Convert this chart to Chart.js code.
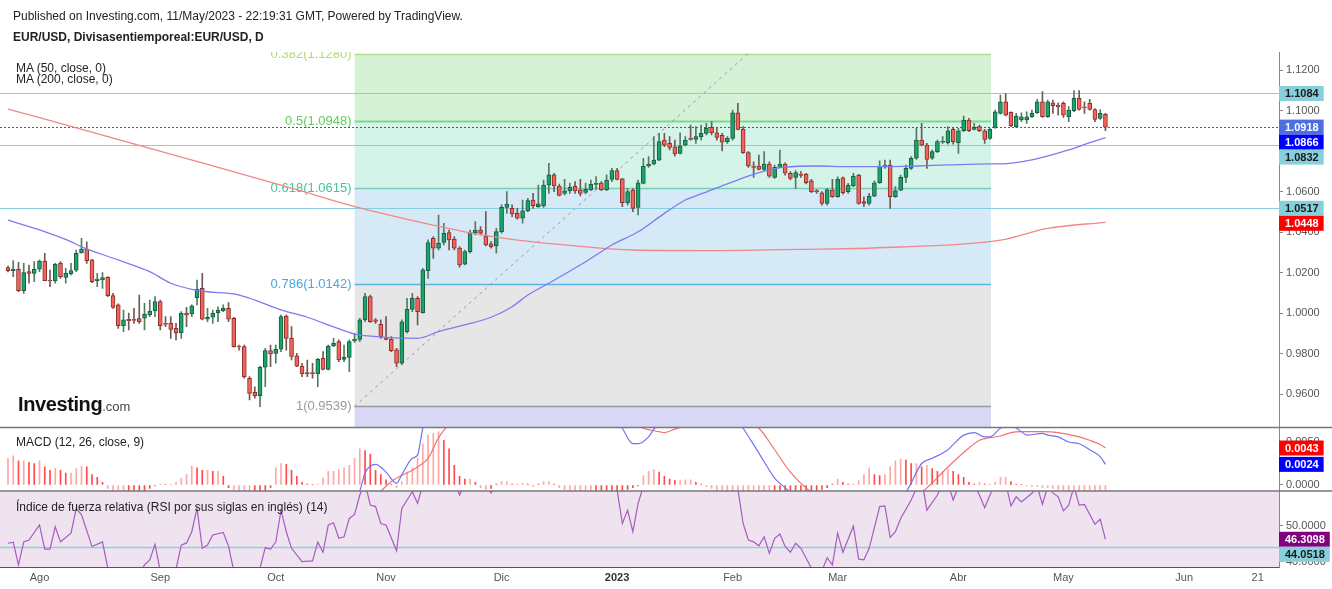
<!DOCTYPE html>
<html>
<head>
<meta charset="utf-8">
<script src="https://cdn.jsdelivr.net/npm/chart.js@4.4.1/dist/chart.umd.min.js"></script>
<style>
  html, body { margin: 0; padding: 0; background: #fff; overflow: hidden; }
  #wrap { position: relative; width: 1332px; height: 589px; font-family: "Liberation Sans", Arial, sans-serif; color: #222; }
  #chart { position: absolute; left: 0; top: 0; }
  .txt { position: absolute; white-space: nowrap; font-size: 12px; line-height: 12px; }
  .logo { position: absolute; left: 18px; top: 393px; white-space: nowrap; }
  .logo b { font-size: 20px; letter-spacing: -0.4px; color: #111; }
  .logo span { font-size: 13px; color: #444; }
</style>
</head>
<body>
<div id="wrap">
  <canvas id="chart" width="1332" height="589"></canvas>
  <div class="txt" style="left:13px;top:10px;">Published on Investing.com, 11/May/2023 - 22:19:31 GMT, Powered by TradingView.</div>
  <div class="txt" style="left:13px;top:31px;font-weight:bold;">EUR/USD, Divisasentiemporeal:EUR/USD, D</div>
  <div class="txt" style="left:16px;top:62px;">MA (50, close, 0)</div>
  <div class="txt" style="left:16px;top:73px;">MA (200, close, 0)</div>
  <div class="logo"><b>Investing</b><span>.com</span></div>
  <div class="txt" style="left:16px;top:436px;">MACD (12, 26, close, 9)</div>
  <div class="txt" style="left:16px;top:501px;">Índice de fuerza relativa (RSI por sus siglas en inglés) (14)</div>
</div>
<script>
// trading day index: 0 = 1 Aug 2022, one step per weekday
const monthDays = [0, 23, 45, 66, 88, 110, 132, 152, 175, 195, 218, 232]
const monthNames = ['Ago', 'Sep', 'Oct', 'Nov', 'Dic', '2023', 'Feb', 'Mar', 'Abr', 'May', 'Jun', '21']

const priceTicks = [0.96, 0.98, 1.00, 1.02, 1.04, 1.06, 1.08, 1.10, 1.12]
const macdTicks = [0, 0.005]
const rsiTicks = [40, 50]

// daily candles, first one at day -6
const firstDay = -6
const opens = [1.0224,1.0209,1.0216,1.0110,1.0204,1.0196,1.0216,1.0257,1.0163,1.0158,1.0245,1.0176,1.0193,1.0212,1.0298,1.0316,1.0262,1.0160,1.0163,1.0176,1.0086,1.0040,0.9938,0.9969,0.9969,0.9972,0.9974,0.9990,1.0010,1.0056,0.9949,0.9949,0.9924,0.9903,0.9999,0.9995,1.0076,1.0122,0.9969,0.9979,1.0002,1.0012,1.0023,0.9974,0.9837,0.9834,0.9678,0.9608,0.9592,0.9732,0.9814,0.9801,0.9821,0.9985,0.9875,0.9788,0.9738,0.9706,0.9706,0.9699,0.9776,0.9722,0.9837,0.9859,0.9771,0.9781,0.9862,0.9870,0.9966,1.0081,0.9966,0.9944,0.9878,0.9870,0.9818,0.9752,0.9908,1.0018,1.0073,1.0002,1.0209,1.0369,1.0320,1.0348,1.0397,1.0364,1.0320,1.0241,1.0303,1.0397,1.0410,1.0380,1.0341,1.0331,1.0402,1.0522,1.0517,1.0492,1.0468,1.0505,1.0558,1.0525,1.0529,1.0632,1.0682,1.0627,1.0591,1.0603,1.0627,1.0608,1.0595,1.0608,1.0635,1.0641,1.0608,1.0660,1.0703,1.0662,1.0545,1.0607,1.0522,1.0640,1.0726,1.0736,1.0755,1.0854,1.0838,1.0821,1.0788,1.0829,1.0862,1.0857,1.0871,1.0887,1.0917,1.0890,1.0877,1.0846,1.0862,1.0989,1.0907,1.0792,1.0726,1.0726,1.0709,1.0736,1.0670,1.0719,1.0736,1.0690,1.0670,1.0686,1.0686,1.0653,1.0604,1.0594,1.0541,1.0607,1.0574,1.0668,1.0599,1.0627,1.0681,1.0550,1.0541,1.0577,1.0643,1.0722,1.0731,1.0574,1.0607,1.0670,1.0714,1.0764,1.0854,1.0829,1.0764,1.0797,1.0843,1.0841,1.0907,1.0841,1.0900,1.0953,1.0907,1.0920,1.0900,1.0862,1.0917,1.0986,1.1043,1.0991,1.0920,1.0953,1.0953,1.0969,1.0989,1.1043,1.0969,1.1038,1.1027,1.1035,1.0969,1.0999,1.1060,1.1018,1.1035,1.1005,1.0961,1.0981]
const highs = [1.0232,1.0259,1.0250,1.0245,1.0237,1.0254,1.0262,1.0295,1.0212,1.0245,1.0254,1.0221,1.0245,1.0311,1.0369,1.0352,1.0265,1.0196,1.0199,1.0180,1.0097,1.0045,1.0015,0.9999,1.0023,1.0089,1.0048,1.0064,1.0081,1.0064,0.9982,0.9982,0.9949,1.0007,1.0028,1.0040,1.0163,1.0196,1.0023,1.0015,1.0031,1.0040,1.0051,0.9979,0.9842,0.9842,0.9686,0.9636,0.9738,0.9826,0.9842,0.9842,0.9990,0.9990,0.9933,0.9801,0.9752,0.9768,0.9752,0.9776,0.9809,0.9842,0.9875,0.9867,0.9842,0.9867,0.9900,0.9974,1.0097,1.0089,0.9972,0.9966,0.9982,0.9883,0.9826,0.9966,1.0073,1.0097,1.0081,1.0221,1.0361,1.0377,1.0484,1.0443,1.0410,1.0377,1.0328,1.0311,1.0410,1.0451,1.0427,1.0501,1.0353,1.0418,1.0534,1.0599,1.0534,1.0517,1.0558,1.0566,1.0591,1.0632,1.0657,1.0739,1.0690,1.0637,1.0660,1.0641,1.0649,1.0660,1.0641,1.0657,1.0674,1.0649,1.0682,1.0715,1.0715,1.0665,1.0615,1.0615,1.0657,1.0764,1.0772,1.0871,1.0887,1.0887,1.0871,1.0854,1.0890,1.0871,1.0928,1.0920,1.0928,1.0937,1.0945,1.0912,1.0887,1.0871,1.1002,1.1035,1.0920,1.0797,1.0747,1.0780,1.0797,1.0747,1.0731,1.0805,1.0742,1.0698,1.0703,1.0698,1.0690,1.0660,1.0610,1.0599,1.0615,1.0660,1.0673,1.0673,1.0640,1.0690,1.0685,1.0574,1.0591,1.0653,1.0752,1.0755,1.0755,1.0624,1.0681,1.0731,1.0772,1.0912,1.0937,1.0838,1.0805,1.0854,1.0871,1.0920,1.0912,1.0912,1.0973,1.0961,1.0937,1.0928,1.0907,1.0912,1.1002,1.1076,1.1084,1.0994,1.0986,1.0989,1.0994,1.1002,1.1055,1.1093,1.1051,1.1051,1.1038,1.1043,1.1019,1.1098,1.1098,1.1043,1.1055,1.1010,1.1005,1.0986]
const lows = [1.0203,1.0180,1.0105,1.0097,1.0147,1.0155,1.0204,1.0160,1.0130,1.0147,1.0171,1.0147,1.0188,1.0204,1.0295,1.0245,1.0150,1.0130,1.0122,1.0081,1.0023,0.9924,0.9908,0.9916,0.9949,0.9949,0.9916,0.9982,0.9982,0.9916,0.9933,0.9875,0.9867,0.9875,0.9933,0.9982,1.0040,0.9966,0.9957,0.9949,0.9957,1.0007,0.9957,0.9831,0.9817,0.9678,0.9571,0.9579,0.9538,0.9636,0.9735,0.9752,0.9809,0.9817,0.9768,0.9735,0.9686,0.9686,0.9678,0.9636,0.9719,0.9719,0.9834,0.9760,0.9760,0.9710,0.9855,0.9859,0.9957,0.9953,0.9948,0.9875,0.9867,0.9809,0.9735,0.9743,0.9900,1.0007,0.9941,0.9999,1.0171,1.0270,1.0311,1.0336,1.0311,1.0311,1.0226,1.0237,1.0295,1.0385,1.0385,1.0331,1.0320,1.0295,1.0394,1.0492,1.0476,1.0463,1.0443,1.0501,1.0517,1.0522,1.0522,1.0591,1.0599,1.0578,1.0583,1.0591,1.0591,1.0578,1.0588,1.0604,1.0611,1.0604,1.0604,1.0649,1.0657,1.0525,1.0533,1.0500,1.0484,1.0637,1.0719,1.0731,1.0752,1.0821,1.0805,1.0775,1.0785,1.0825,1.0854,1.0838,1.0854,1.0879,1.0879,1.0854,1.0801,1.0838,1.0854,1.0904,1.0788,1.0719,1.0670,1.0706,1.0703,1.0670,1.0665,1.0719,1.0681,1.0657,1.0615,1.0670,1.0637,1.0594,1.0591,1.0533,1.0533,1.0571,1.0571,1.0587,1.0591,1.0624,1.0538,1.0525,1.0533,1.0574,1.0640,1.0714,1.0517,1.0571,1.0604,1.0643,1.0709,1.0759,1.0825,1.0714,1.0759,1.0792,1.0838,1.0834,1.0834,1.0788,1.0895,1.0895,1.0904,1.0895,1.0838,1.0857,1.0912,1.0982,1.0973,1.0920,1.0917,1.0945,1.0936,1.0966,1.0986,1.0966,1.0966,1.0986,1.0977,1.0966,1.0945,1.0994,1.1002,1.0986,1.1002,1.0945,1.0956,1.0900]
const closes = [1.0209,1.0216,1.0110,1.0199,1.0196,1.0216,1.0257,1.0160,1.0158,1.0240,1.0180,1.0196,1.0209,1.0295,1.0316,1.0259,1.0155,1.0168,1.0175,1.0086,1.0028,0.9938,0.9966,0.9962,0.9963,0.9957,0.9995,1.0010,1.0056,0.9938,0.9944,0.9919,0.9900,0.9999,0.9989,1.0035,1.0117,0.9969,0.9979,0.9999,1.0015,1.0023,0.9969,0.9834,0.9832,0.9686,0.9603,0.9592,0.9732,0.9814,0.9798,0.9821,0.9982,0.9875,0.9785,0.9738,0.9699,0.9699,0.9699,0.9771,0.9722,0.9837,0.9850,0.9768,0.9781,0.9859,0.9870,0.9966,1.0081,0.9957,0.9959,0.9883,0.9870,0.9814,0.9752,0.9957,1.0018,1.0073,1.0007,1.0213,1.0348,1.0320,1.0344,1.0394,1.0361,1.0320,1.0237,1.0303,1.0397,1.0410,1.0394,1.0336,1.0328,1.0402,1.0522,1.0538,1.0489,1.0468,1.0504,1.0555,1.0530,1.0539,1.0632,1.0682,1.0627,1.0581,1.0603,1.0621,1.0603,1.0591,1.0611,1.0636,1.0640,1.0608,1.0657,1.0703,1.0660,1.0545,1.0599,1.0517,1.0643,1.0726,1.0736,1.0755,1.0846,1.0829,1.0818,1.0785,1.0825,1.0854,1.0857,1.0871,1.0887,1.0912,1.0890,1.0867,1.0843,1.0862,1.0989,1.0907,1.0792,1.0726,1.0719,1.0709,1.0736,1.0676,1.0719,1.0736,1.0690,1.0665,1.0693,1.0680,1.0643,1.0599,1.0599,1.0541,1.0610,1.0574,1.0660,1.0594,1.0632,1.0676,1.0541,1.0541,1.0577,1.0643,1.0726,1.0731,1.0574,1.0604,1.0670,1.0714,1.0764,1.0854,1.0829,1.0759,1.0797,1.0846,1.0848,1.0900,1.0846,1.0900,1.0953,1.0900,1.0917,1.0900,1.0857,1.0907,1.0994,1.1043,1.0977,1.0925,1.0973,1.0969,1.0969,1.0986,1.1043,1.0969,1.1043,1.1024,1.1019,1.0977,1.1002,1.1060,1.1005,1.1013,1.1005,1.0956,1.0986,1.0918]

// moving averages
const ma50Days = [-6, 0, 6, 8, 15, 21, 25, 29, 32, 37, 41, 46, 51, 56, 60, 63, 72, 76, 81, 86, 90, 93, 97, 104, 109, 114, 119, 123, 126, 132, 137, 142, 148, 154, 161, 167, 173, 181, 183, 189, 196, 200, 203]
const ma50Vals = [1.0459, 1.0410, 1.0352, 1.0327, 1.0262, 1.0204, 1.0147, 1.0117, 1.0105, 1.0094, 1.0064, 1.0015, 0.9979, 0.9932, 0.9896, 0.9886, 0.9875, 0.9908, 0.9941, 0.9979, 1.0031, 1.0089, 1.0147, 1.0253, 1.0336, 1.0401, 1.0492, 1.0558, 1.0588, 1.0648, 1.0693, 1.0720, 1.0726, 1.0723, 1.0723, 1.0726, 1.0731, 1.0736, 1.0736, 1.0756, 1.0805, 1.0841, 1.0866]
const ma200Days = [-6, 12, 31, 50, 59, 72, 81, 91, 100, 113, 126, 145, 164, 183, 192, 203]
const ma200Vals = [1.1007, 1.0879, 1.0741, 1.0602, 1.0533, 1.0451, 1.0401, 1.0360, 1.0336, 1.0311, 1.0308, 1.0314, 1.0326, 1.0360, 1.0418, 1.0448]

// MACD histogram, one bar per day from firstDay
const macdHist = [0.0031,0.0034,0.0028,0.0028,0.0026,0.0025,0.0028,0.0021,0.0017,0.0019,0.0017,0.0014,0.0014,0.0019,0.0022,0.0021,0.0012,0.0009,0.0003,-0.0004,-0.0009,-0.0013,-0.0014,-0.0013,-0.0012,-0.0010,-0.0008,-0.0004,-0.0001,0.0001,0.00005,0.0001,0.0003,0.0008,0.0012,0.0022,0.0020,0.0017,0.0017,0.0016,0.0016,0.0010,-0.0003,-0.0008,-0.0012,-0.0016,-0.0018,-0.0016,-0.0012,-0.0008,-0.0003,0.0020,0.0025,0.0024,0.0017,0.0010,0.0003,0.0001,0.00005,0.0001,0.0008,0.0016,0.0016,0.0018,0.0020,0.0023,0.0031,0.0042,0.0040,0.0036,0.0017,0.0012,0.0006,0.0001,-0.0003,0.0004,0.0015,0.0020,0.0031,0.0048,0.0058,0.0060,0.0062,0.0052,0.0042,0.0023,0.0010,0.0007,0.0007,0.0003,-0.0003,-0.0005,-0.0004,0.0001,0.0004,0.0004,0.0001,0.0001,0.0002,0.0001,-0.0002,0.0001,0.0004,0.0004,0.0001,-0.0003,-0.0006,-0.0009,-0.0011,-0.0012,-0.0013,-0.0013,-0.0012,-0.0011,-0.0010,-0.0009,-0.0008,-0.0007,-0.0005,-0.0003,-0.0001,0.0011,0.0016,0.0018,0.0015,0.0010,0.0007,0.0005,0.0005,0.0006,0.0006,0.0003,0.0001,-0.0002,-0.0004,-0.0007,-0.0010,-0.0013,-0.0016,-0.0019,-0.0022,-0.0025,-0.0027,-0.0029,-0.0030,-0.0030,-0.0029,-0.0027,-0.0024,-0.0021,-0.0018,-0.0015,-0.0012,-0.0009,-0.0007,-0.0005,-0.0003,0.0001,0.0007,0.0003,0.0001,0.0001,0.0005,0.0012,0.0020,0.0012,0.0011,0.0012,0.0021,0.0028,0.0030,0.0029,0.0025,0.0025,0.0021,0.0023,0.0019,0.0016,0.0016,0.0018,0.0016,0.0012,0.0009,0.0003,0.0001,0.0003,0.0001,0.0001,0.0003,0.0009,0.0009,0.0004,0.0001,0.00005,-0.0001,-0.0002,-0.0002,-0.0003,-0.0003,-0.0004,-0.0005,-0.0006,-0.0007,-0.0008,-0.0010,-0.0011,-0.0012,-0.0014,-0.0016,-0.0019]
const macdDays = [-6, 30, 50, 60, 61, 62, 64, 66, 68, 69, 71, 72, 73, 75, 90, 105, 110, 111, 113, 114, 116, 117, 119, 128, 133, 134, 136, 138, 140, 141, 143, 150, 160, 165, 168, 170, 173, 174, 176, 178, 180, 181, 183, 185, 187, 188, 191, 192, 194, 196, 198, 200, 202, 203]
const macdVals = [-0.0035, -0.0020, -0.0030, -0.0018, -0.0007, 0.0014, 0.0024, 0.0015, 0.0002, 0.0012, 0.0031, 0.0035, 0.0066, 0.0095, 0.0110, 0.0090, 0.0075, 0.0066, 0.0048, 0.0048, 0.0056, 0.0065, 0.0080, 0.0085, 0.0075, 0.0066, 0.0047, 0.0027, 0.0008, 0.0002, -0.0008, -0.0025, -0.0020, -0.0008, 0.0025, 0.0031, 0.0041, 0.0047, 0.0058, 0.0061, 0.0056, 0.0056, 0.0066, 0.0069, 0.0062, 0.0058, 0.0060, 0.0058, 0.0056, 0.0050, 0.0048, 0.0041, 0.0033, 0.0024]
const signalDays = [-6, 30, 60, 63, 65, 67, 72, 74, 76, 78, 90, 105, 113, 115, 118, 119, 121, 123, 128, 135, 137, 140, 143, 147, 155, 163, 168, 173, 177, 179, 181, 183, 185, 187, 191, 194, 198, 200, 202, 203]
const signalVals = [-0.0065, -0.0040, -0.0025, -0.0015, -0.0007, 0.0004, 0.0021, 0.0031, 0.0055, 0.0070, 0.0095, 0.0085, 0.0072, 0.0066, 0.0062, 0.0061, 0.0065, 0.0069, 0.0075, 0.0072, 0.0066, 0.0041, 0.0015, -0.0008, -0.0025, -0.0015, -0.0008, 0.0021, 0.0043, 0.0052, 0.0055, 0.0057, 0.0061, 0.0062, 0.0062, 0.0061, 0.0056, 0.0052, 0.0047, 0.0043]

// RSI (14)
const rsiDays = [-6,-5,-4,-3,-2,0,1,2,3,4,6,7,8,10,12,13,15,18,20,21,22,23,25,26,27,28,29,30,31,32,33,35,36,37,39,41,42,43,44,45,46,47,48,50,52,53,54,55,56,57,58,59,60,61,62,63,64,65,66,68,69,71,72,73,75,79,80,81,85,86,87,95,105,109,110,111,112,113,114,115,118,125,132,133,134,135,136,137,138,139,140,141,142,143,144,145,147,148,149,150,151,152,153,155,156,157,158,160,161,162,163,164,166,167,168,169,171,172,173,174,175,177,179,180,182,184,185,186,187,189,190,191,192,193,194,195,196,197,198,199,201,202,203]
const rsiVals = [45.2,45.5,39.2,45.6,46.1,50.3,43.6,43.6,49.8,45.6,48.0,54.9,53.1,44.3,45.6,38.3,34.0,34.0,39.2,40.6,44.9,37.5,36.0,38.0,44.7,45.3,48.4,54.9,43.8,44.7,47.5,48.2,44.4,37.5,32.0,34.0,38.3,44.0,43.5,45.6,54.4,48.4,43.8,40.1,40.3,45.5,42.7,50.3,50.9,46.6,47.0,52.1,53.2,58.6,62.0,55.8,55.4,50.7,50.3,43.1,54.9,59.5,56.3,61.5,68.0,63.0,58.6,62.0,62.0,59.2,62.0,68.0,68.0,63.0,60.0,50.7,54.4,48.4,56.3,61.0,68.0,70.0,68.0,60.3,50.7,46.1,45.6,44.5,47.0,42.4,46.6,47.8,44.3,42.7,45.2,43.8,38.3,36.0,37.5,41.2,39.2,48.0,42.7,50.0,40.8,40.6,43.8,55.4,55.6,46.8,48.4,52.1,57.2,60.5,63.0,54.4,58.6,62.0,62.0,57.2,61.0,64.0,58.6,55.1,62.0,62.0,55.6,58.1,56.7,59.1,61.0,56.0,61.0,59.2,58.1,54.2,55.8,61.0,55.8,56.0,50.5,51.9,46.3098]
const rsiBand = [30, 70]
const rsiLevel = 44.0518

// fibonacci retracement
const fibStart = 60
const fibEnd = 181.2
const fibRatios = [0, 0.382, 0.5, 0.618, 0.786, 1, 1.272]
const fibPrices = [1.2357, 1.1280, 1.0948, 1.0615, 1.0142, 0.9539, 0.8773]
const fibFills = [null, '#d5f2d6', '#d4f4e9', '#d6e9f6', '#e6e6e6', '#d8d8f6']
const fibLines = ['#a0d080', '#b5dc88', '#7edb8a', '#72d2b2', '#5fb3e4', '#9a9a9a', '#9a9ad8']
const fibTexts = ['#a0d080', '#b3d77a', '#5fcd62', '#45c49c', '#4aa7e0', '#9a9a9a', '#9a9ad8']

// horizontal price levels drawn across the pane
const hLevels = [1.1084, 1.0832, 1.0517]

const FONT = '"Liberation Sans", Arial, sans-serif'
Chart.defaults.font.family = FONT

const candleDays = opens.map((o, k) => firstDay + k)
const up = closes.map((c, k) => c >= opens[k])
const last = closes.length - 1

function pts(days, vals) {
    return days.map((d, k) => ({x: d, y: vals[k]}))
}

// clip each dataset to its own pane
const paneClip = {
    id: 'paneClip',
    beforeDatasetDraw(chart, args) {
        const ys = args.meta.yScale
        const a = chart.chartArea
        chart.ctx.save()
        chart.ctx.beginPath()
        chart.ctx.rect(a.left, ys.top, a.right - a.left, ys.bottom - ys.top)
        chart.ctx.clip()
    },
    afterDatasetDraw(chart) {
        chart.ctx.restore()
    }
}

const backdrop = {
    id: 'backdrop',
    beforeDatasetsDraw(chart) {
        const ctx = chart.ctx
        const a = chart.chartArea
        const x = chart.scales.x, y = chart.scales.y, rsi = chart.scales.rsi
        const w = a.right - a.left

        // rsi band
        ctx.save()
        ctx.beginPath()
        ctx.rect(a.left, rsi.top, w, rsi.bottom - rsi.top)
        ctx.clip()
        const bt = rsi.getPixelForValue(rsiBand[1])
        const bb = rsi.getPixelForValue(rsiBand[0])
        ctx.fillStyle = '#efe3f0'
        ctx.fillRect(a.left, bt, w, bb - bt)
        ctx.strokeStyle = '#8fd0e0'
        ctx.lineWidth = 1.5
        ctx.beginPath()
        const ry = rsi.getPixelForValue(rsiLevel)
        ctx.moveTo(a.left, ry)
        ctx.lineTo(a.right, ry)
        ctx.stroke()
        ctx.restore()

        // price pane
        ctx.save()
        ctx.beginPath()
        ctx.rect(a.left, y.top, w, y.bottom - y.top)
        ctx.clip()
        const x0 = x.getPixelForValue(fibStart)
        const x1 = x.getPixelForValue(fibEnd)
        for (let k = 0; k < fibPrices.length - 1; k++) {
            if (!fibFills[k]) continue
            const t = y.getPixelForValue(fibPrices[k])
            const b = y.getPixelForValue(fibPrices[k + 1])
            ctx.fillStyle = fibFills[k]
            ctx.fillRect(x0, t, x1 - x0, b - t)
        }
        fibPrices.forEach((p, k) => {
            const py = Math.round(y.getPixelForValue(p)) + 0.5
            ctx.strokeStyle = fibLines[k]
            ctx.lineWidth = fibRatios[k] === 0.5 ? 2 : 1.3
            ctx.beginPath()
            ctx.moveTo(x0, py)
            ctx.lineTo(x1, py)
            ctx.stroke()
            ctx.fillStyle = fibTexts[k]
            ctx.font = '13px ' + FONT
            ctx.textAlign = 'right'
            ctx.textBaseline = 'middle'
            ctx.fillText(fibRatios[k] + '(' + p.toFixed(4) + ')', x0 - 3, py)
        })
        // trend line of the retracement
        ctx.strokeStyle = '#9a9a9a'
        ctx.lineWidth = 1
        ctx.setLineDash([3, 4])
        ctx.beginPath()
        ctx.moveTo(x0, y.getPixelForValue(fibPrices[5]))
        ctx.lineTo(x1, y.getPixelForValue(fibPrices[0]))
        ctx.stroke()
        ctx.setLineDash([])

        ctx.strokeStyle = '#86cfdc'
        ctx.lineWidth = 1
        hLevels.forEach(p => {
            const py = Math.round(y.getPixelForValue(p)) + 0.5
            ctx.beginPath()
            ctx.moveTo(a.left, py)
            ctx.lineTo(a.right, py)
            ctx.stroke()
        })
        // last price
        const ly = Math.round(y.getPixelForValue(closes[last])) + 0.5
        ctx.strokeStyle = '#2f55e0'
        ctx.setLineDash([2, 2])
        ctx.beginPath()
        ctx.moveTo(a.left, ly)
        ctx.lineTo(a.right, ly)
        ctx.stroke()
        ctx.setLineDash([])
        ctx.restore()
    },
    afterDraw(chart) {
        const ctx = chart.ctx
        const a = chart.chartArea
        const y = chart.scales.y, macd = chart.scales.macd, rsi = chart.scales.rsi

        ctx.save()
        ctx.strokeStyle = '#777'
        ctx.lineWidth = 1.5
        ;[y.bottom, macd.bottom].forEach(py => {
            ctx.beginPath()
            ctx.moveTo(0, py)
            ctx.lineTo(1332, py)
            ctx.stroke()
        })

        // value tags on the right axis
        const tags = [
            [y, [
                [hLevels[0], '#87cfdb', '#1a1a1a'],
                [closes[last], '#4d6fdf', '#fff'],
                [ma50Vals[ma50Vals.length - 1], '#0000ff', '#fff'],
                [hLevels[1], '#87cfdb', '#1a1a1a'],
                [hLevels[2], '#87cfdb', '#1a1a1a'],
                [ma200Vals[ma200Vals.length - 1], '#ff0000', '#fff']
            ]],
            [macd, [
                [signalVals[signalVals.length - 1], '#ff0000', '#fff'],
                [macdVals[macdVals.length - 1], '#0000ff', '#fff']
            ]],
            [rsi, [
                [rsiVals[rsiVals.length - 1], '#800080', '#fff'],
                [rsiLevel, '#87cfdb', '#1a1a1a']
            ]]
        ]
        ctx.font = 'bold 11px ' + FONT
        ctx.textAlign = 'left'
        ctx.textBaseline = 'middle'
        tags.forEach(([scale, list]) => {
            let prev = -100
            list.forEach(([v, bg, fg]) => {
                let py = scale.getPixelForValue(v)
                if (py < prev + 15) py = prev + 15
                prev = py
                const tw = ctx.measureText(v.toFixed(4)).width
                ctx.fillStyle = bg
                ctx.fillRect(a.right, py - 7.5, tw + 11, 15)
                ctx.fillStyle = fg
                ctx.fillText(v.toFixed(4), a.right + 6, py + 0.5)
            })
        })
        ctx.restore()
    }
}

new Chart(document.getElementById('chart'), {
    type: 'bar',
    data: {
        datasets: [
            {
                type: 'line', data: pts(ma50Days, ma50Vals), yAxisID: 'y',
                borderColor: '#7c7cf0', borderWidth: 1.3, pointRadius: 0, cubicInterpolationMode: 'monotone'
            },
            {
                type: 'line', data: pts(ma200Days, ma200Vals), yAxisID: 'y',
                borderColor: '#f08888', borderWidth: 1.3, pointRadius: 0, cubicInterpolationMode: 'monotone'
            },
            {
                data: candleDays.map((d, k) => ({x: d, y: [opens[k], closes[k]]})), yAxisID: 'y',
                backgroundColor: up.map(u => u ? '#17a56c' : '#f2645b'),
                borderColor: up.map(u => u ? '#1e5a3d' : '#8c2e29'),
                borderWidth: 1, borderSkipped: false, barThickness: 4, grouped: false
            },
            {
                data: candleDays.map((d, k) => ({x: d, y: [lows[k], highs[k]]})), yAxisID: 'y',
                backgroundColor: up.map(u => u ? '#557a64' : '#6f5a55'),
                barThickness: 1, grouped: false
            },
            {
                type: 'line', data: pts(macdDays, macdVals), yAxisID: 'macd',
                borderColor: '#7272f2', borderWidth: 1.2, pointRadius: 0, cubicInterpolationMode: 'monotone'
            },
            {
                type: 'line', data: pts(signalDays, signalVals), yAxisID: 'macd',
                borderColor: '#f27272', borderWidth: 1.2, pointRadius: 0, cubicInterpolationMode: 'monotone'
            },
            {
                data: candleDays.map((d, k) => ({x: d, y: macdHist[k]})), yAxisID: 'macd',
                backgroundColor: macdHist.map((h, k) => k > 0 && Math.abs(h) < Math.abs(macdHist[k - 1]) ? '#ff4a4a' : '#ffa6a6'),
                barThickness: 1, grouped: false
            },
            {
                type: 'line', data: pts(rsiDays, rsiVals), yAxisID: 'rsi',
                borderColor: '#a65cbf', borderWidth: 1.2, pointRadius: 0, tension: 0
            }
        ]
    },
    options: {
        responsive: false,
        animation: false,
        layout: {padding: {top: 52, left: 0, right: 0, bottom: 0}},
        plugins: {legend: {display: false}, tooltip: {enabled: false}},
        scales: {
            x: {
                type: 'linear', min: -7.52, max: 236.05, offset: false,
                afterBuildTicks: s => { s.ticks = monthDays.map(v => ({value: v})) },
                afterFit: s => { s.height = 22 },
                grid: {display: false, drawTicks: false, offset: false},
                border: {color: '#555', width: 1},
                ticks: {
                    autoSkip: false, maxRotation: 0, padding: 4,
                    color: c => monthDays[c.index] === 110 ? '#333' : '#555',
                    font: c => ({size: 11, weight: monthDays[c.index] === 110 ? 'bold' : 'normal'}),
                    callback: (v, i) => monthNames[i]
                }
            },
            y: {
                position: 'right', stack: 'panes', stackWeight: 375.5,
                min: 0.943457, max: 1.128889,
                afterBuildTicks: s => { s.ticks = priceTicks.map(v => ({value: v})) },
                afterFit: s => { s.width = 53 },
                grid: {drawOnChartArea: false, tickLength: 4, color: '#888'},
                border: {color: '#888'},
                ticks: {color: '#555', font: {size: 11}, padding: 3, callback: v => v.toFixed(4)}
            },
            macd: {
                position: 'right', stack: 'panes', stackWeight: 63.5,
                min: -0.000698, max: 0.006686,
                afterBuildTicks: s => { s.ticks = macdTicks.map(v => ({value: v})) },
                afterFit: s => { s.width = 53 },
                grid: {drawOnChartArea: false, tickLength: 4, color: '#888'},
                border: {color: '#888'},
                ticks: {color: '#555', font: {size: 11}, padding: 3, callback: v => v.toFixed(4)}
            },
            rsi: {
                position: 'right', stack: 'panes', stackWeight: 76,
                min: 38.61, max: 59.72,
                afterBuildTicks: s => { s.ticks = rsiTicks.map(v => ({value: v})) },
                afterFit: s => { s.width = 53 },
                grid: {drawOnChartArea: false, tickLength: 4, color: '#888'},
                border: {color: '#888'},
                ticks: {color: '#555', font: {size: 11}, padding: 3, callback: v => v.toFixed(4)}
            }
        }
    },
    plugins: [paneClip, backdrop]
})
</script>
</body>
</html>
